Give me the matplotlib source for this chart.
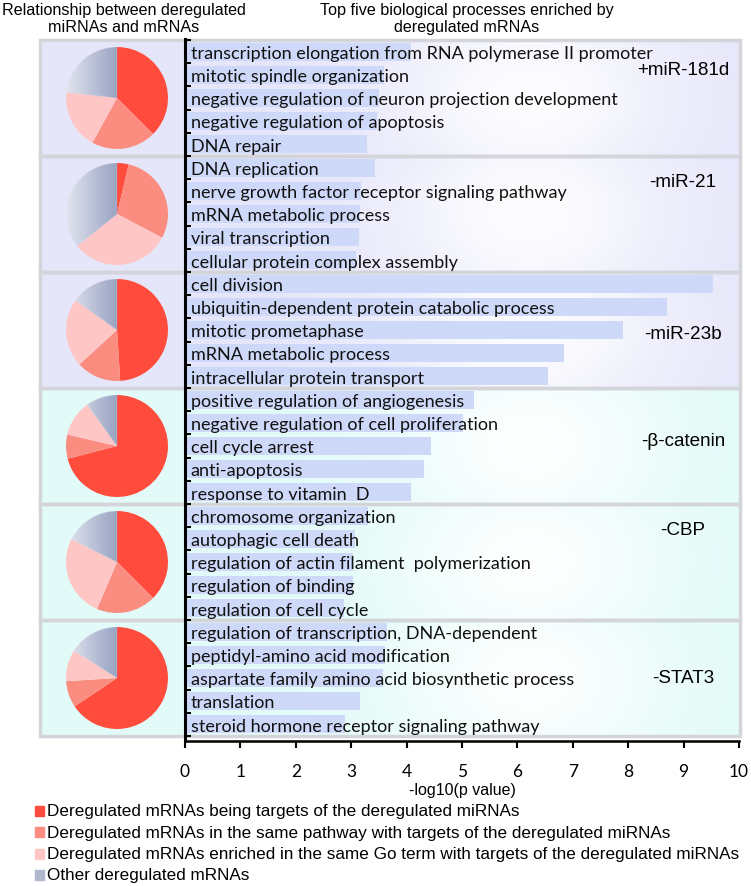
import numpy as np
import matplotlib
matplotlib.use("Agg")
import matplotlib.pyplot as plt
from matplotlib.patches import Rectangle

# ---- data ----
groups = ["+miR-181d", "-miR-21", "-miR-23b", "-β-catenin", "-CBP", "-STAT3"]
processes = [
    "transcription elongation from RNA polymerase II promoter",
    "mitotic spindle organization",
    "negative regulation of neuron projection development",
    "negative regulation of apoptosis",
    "DNA repair",
    "DNA replication",
    "nerve growth factor receptor signaling pathway",
    "mRNA metabolic process",
    "viral transcription",
    "cellular protein complex assembly",
    "cell division",
    "ubiquitin-dependent protein catabolic process",
    "mitotic prometaphase",
    "mRNA metabolic process",
    "intracellular protein transport",
    "positive regulation of angiogenesis",
    "negative regulation of cell proliferation",
    "cell cycle arrest",
    "anti-apoptosis",
    "response to vitamin  D",
    "chromosome organization",
    "autophagic cell death",
    "regulation of actin filament  polymerization",
    "regulation of binding",
    "regulation of cell cycle",
    "regulation of transcription, DNA-dependent",
    "peptidyl-amino acid modification",
    "aspartate family amino acid biosynthetic process",
    "translation",
    "steroid hormone receptor signaling pathway",
]
neg_log_p = [
    4.08, 3.59, 3.50, 3.47, 3.29,
    3.43, 3.18, 3.16, 3.14, 3.09,
    9.53, 8.70, 7.90, 6.85, 6.55,
    5.22, 5.02, 4.44, 4.31, 4.08,
    3.30, 3.06, 3.03, 3.03, 2.87,
    3.65, 3.61, 3.57, 3.16, 2.89,
]
# pie fractions: targets, same pathway, same GO term, other
pie_targets = [37.5, 3.7, 49.0, 71.0, 37.5, 65.6]
pie_pathway = [20.5, 29.0, 14.2, 7.6, 18.9, 8.4]
pie_goterm = [18.8, 31.5, 21.7, 11.5, 26.0, 10.0]
pie_other = [23.2, 35.8, 15.1, 9.9, 17.6, 16.0]

legend_labels = [
    "Deregulated mRNAs being targets of the deregulated miRNAs",
    "Deregulated mRNAs in the same pathway with targets of the deregulated miRNAs",
    "Deregulated mRNAs enriched in the same Go term with targets of the deregulated miRNAs",
    "Other deregulated mRNAs",
]

# ---- style ----
pie_colors = ["#FF4C3C", "#FA8C80", "#FFC6C6", "#B4BCD0"]
bar_color = "#CED9FA"
panel_colors = ["#E6E6FA", "#E6E6FA", "#E6E6FA", "#E2FBF8", "#E2FBF8", "#E2FBF8"]
label_offsets = [1.28, 1.12, 2.67, 2.28, 1.08, 2.46]
arial = ["Liberation Sans", "DejaVu Sans"]
calib = ["Lato", "DejaVu Sans"]

W, H = 751, 887
fig = plt.figure(figsize=(W / 100, H / 100), dpi=100)

# bar axes geometry in pixels
ax_l, ax_r, ax_t, ax_b = 185, 739, 40, 742
ax = fig.add_axes([ax_l / W, 1 - ax_b / H, (ax_r - ax_l) / W, (ax_b - ax_t) / H])
ax.patch.set_alpha(0)

n = len(processes)
ypos = np.arange(n)
ax.barh(ypos, neg_log_p, height=0.78, color=bar_color, zorder=2)
for y, txt in zip(ypos, processes):
    ax.text(0.1, y + 0.05, txt, va="center", ha="left", fontsize=13,
            family=calib, color="#111111", zorder=3)

y0, y1 = -0.543, 29.715
x_left = -(ax_l - 40) / ((ax_r - ax_l) / 10)

# panel backgrounds with soft light spot
gx = np.linspace(0, 1, 300)
gy = np.linspace(0, 1, 40)
GX, GY = np.meshgrid(gx, gy)
glow = 0.92 * np.exp(-((GX - 0.7) / 0.2) ** 2 - ((GY - 0.5) / 0.9) ** 2)
for i, (g, col) in enumerate(zip(groups, panel_colors)):
    base = np.array(matplotlib.colors.to_rgb(col))
    img = base[None, None, :] * (1 - glow[..., None]) + glow[..., None]
    top, bot = 5 * i - 0.5, 5 * i + 4.5
    ax.imshow(img, extent=(x_left, 10.02, bot, top), aspect="auto",
              clip_on=False, zorder=0, interpolation="bilinear")
    ax.add_patch(Rectangle((x_left, top), 10.02 - x_left, 5, fill=False,
                           edgecolor="#D4D5DA", lw=2.5, clip_on=False, zorder=1))
    ax.text(8.99, top + label_offsets[i], g, ha="center", va="center",
            fontsize=13.6, family=arial, zorder=3)
ax.set_xlim(0, 10)
ax.set_ylim(y1, y0)

ax.spines["top"].set_visible(False)
ax.spines["right"].set_visible(False)
ax.spines["left"].set_linewidth(2.2)
ax.spines["bottom"].set_linewidth(1.8)
ax.spines["left"].set_zorder(4)
ax.set_yticks(np.arange(-0.5, n, 1))
ax.set_yticklabels([])
ax.tick_params(axis="y", direction="in", length=4, width=1.5)
ax.set_xticks(range(0, 11))
ax.tick_params(axis="x", direction="out", length=5, width=1.5, pad=11,
               labelsize=12.5)
for lab in ax.get_xticklabels():
    lab.set_family(calib)
ax.set_xlabel("-log10(p value)", fontsize=11.5, family=arial, labelpad=2)

# pies
px_per_unit = (ax_b - ax_t) / (y1 - y0)
r = 52
N = 400
u = np.linspace(-1, 1, N)
UX, UY = np.meshgrid(u, u)
RR = np.hypot(UX, UY)
ANG = np.mod(90 - np.degrees(np.arctan2(UY, UX)), 360)
light = np.array([0.89, 0.90, 0.94])
dark = np.array([0.60, 0.64, 0.76])
for i in range(len(groups)):
    cy = ax_t + (5 * i + 2 - y0) * px_per_unit
    cx = 117
    pax = fig.add_axes([(cx - r) / W, 1 - (cy + r) / H, 2 * r / W, 2 * r / H])
    vals = [pie_targets[i], pie_pathway[i], pie_goterm[i], pie_other[i]]
    wedges, _ = pax.pie(vals, colors=pie_colors, startangle=90,
                        counterclock=False, radius=1.0)
    wedges[3].set_facecolor("none")
    # gradient fill for the "other" wedge
    a0 = 360 * sum(vals[:3]) / sum(vals)
    t = np.clip(UX + 1, 0, 1)
    rgba = np.zeros((N, N, 4))
    rgba[..., :3] = light * (1 - t[..., None]) + dark * t[..., None]
    alpha = np.clip((1 - RR) * N / 2 + 0.5, 0, 1)
    rgba[..., 3] = alpha * (ANG >= a0)
    pax.imshow(rgba, extent=(-1, 1, -1, 1), origin="lower",
               interpolation="bilinear", zorder=3)
    pax.set_xlim(-1.02, 1.02)
    pax.set_ylim(-1.02, 1.02)
    pax.set_aspect("equal")
    pax.axis("off")

# headers
fig.text(124 / W, 1 - 19 / H, "Relationship between deregulated\nmiRNAs and mRNAs",
         ha="center", va="center", fontsize=11.6, family=arial, linespacing=1.2)
fig.text(467 / W, 1 - 19 / H, "Top five biological processes enriched by\nderegulated mRNAs",
         ha="center", va="center", fontsize=11.6, family=arial, linespacing=1.2)

# legend
leg_colors = ["#FF4C3C", "#FA8C80", "#FFC6C6", "#B0B8CC"]
for k, (lab, c) in enumerate(zip(legend_labels, leg_colors)):
    yc = 812 + k * 21.3
    fig.add_artist(Rectangle((35 / W, 1 - (yc + 5) / H), 9 / W, 10 / H,
                             transform=fig.transFigure, color=c))
    fig.text(47 / W, 1 - yc / H, lab, ha="left", va="center",
             fontsize=12.3, family=arial)

fig.savefig("out.png", dpi=100)
